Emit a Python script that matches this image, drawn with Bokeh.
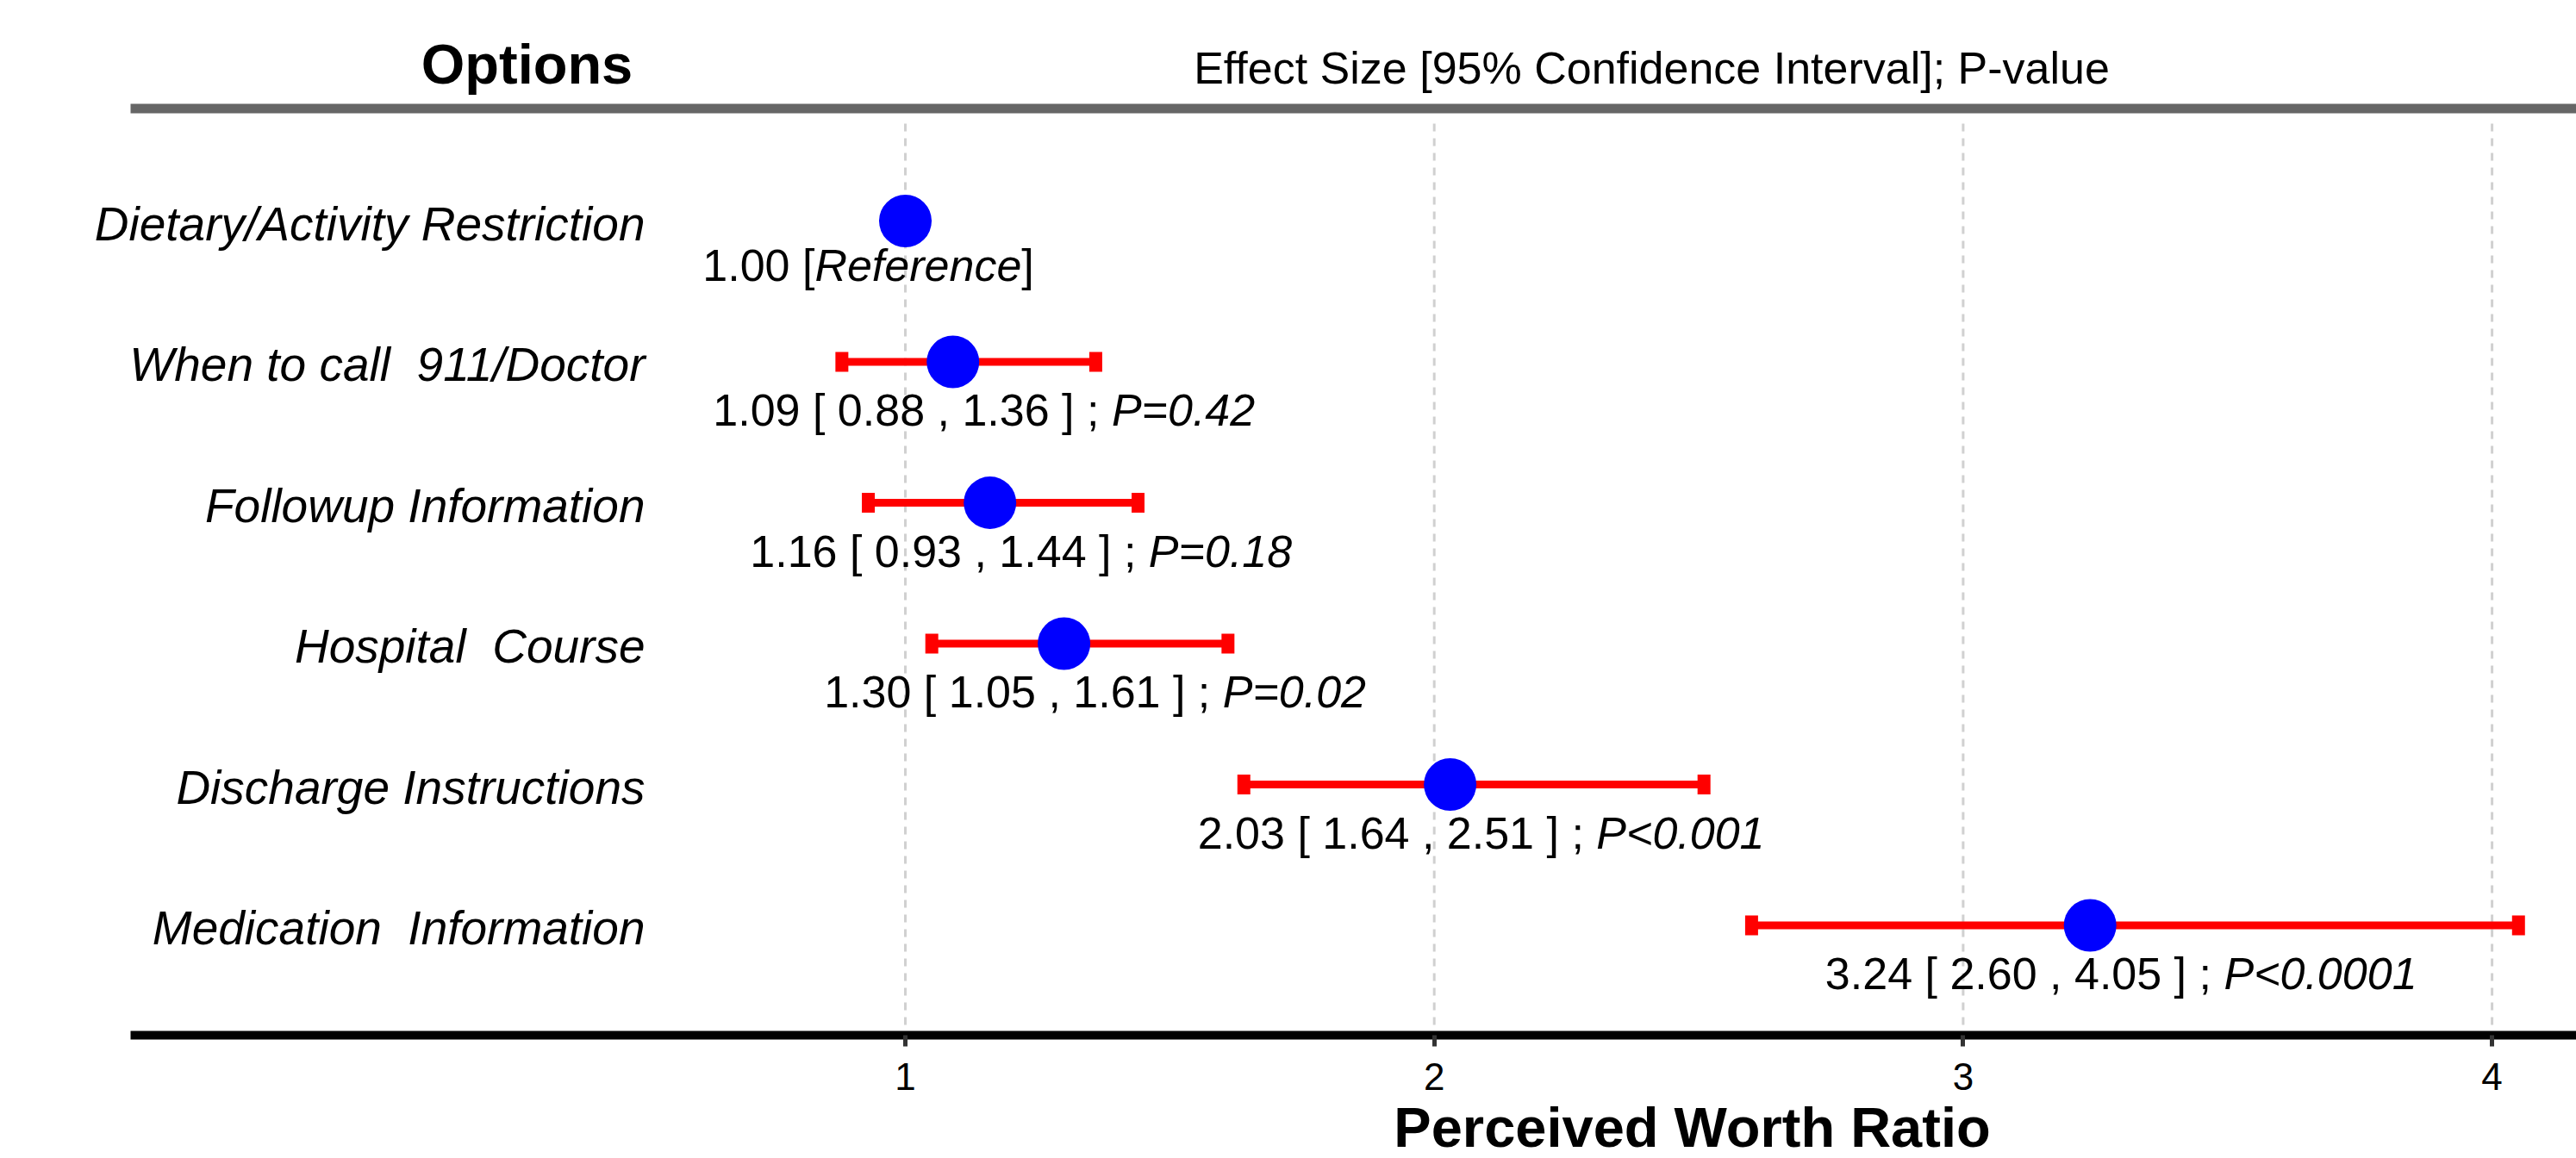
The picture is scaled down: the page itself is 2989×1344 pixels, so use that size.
from bokeh.plotting import figure
from bokeh.models import ColumnDataSource, FixedTicker, Range1d
from bokeh.embed import file_html
from bokeh.resources import INLINE
from bokeh.core.properties import value

# ---------------- data ----------------
options = [
    "Dietary/Activity Restriction",
    "When to call  911/Doctor",
    "Followup Information",
    "Hospital  Course",
    "Discharge Instructions",
    "Medication  Information",
]
effect = [1.00, 1.09, 1.16, 1.30, 2.03, 3.24]
ci_low = [None, 0.88, 0.93, 1.05, 1.64, 2.60]
ci_high = [None, 1.36, 1.44, 1.61, 2.51, 4.05]
p_label = [None, "P=0.42", "P=0.18", "P=0.02", "P<0.001", "P<0.0001"]
x_ticks = [1, 2, 3, 4]

header_left = "Options"
header_right = "Effect Size [95% Confidence Interval]; P-value"
x_title = "Perceived Worth Ratio"
reference_word = "Reference"

# ---------------- layout helpers (canvas pixels) ----------------
FONT = "Liberation Sans"
W, H = 2989, 1344
X1_PX, X_UNIT = 1050.0, 613.7      # px of x=1, px per unit
ROW0_PX, ROW_STEP = 256.0, 163.5   # px of first row, px per row
n = len(options)


def x_of(px):
    return 1 + (px - X1_PX) / X_UNIT


def y_of(py):
    return n - (py - ROW0_PX) / ROW_STEP


AXIS_LEFT, AXIS_Y = 151, 1201
x_range = Range1d(x_of(0), x_of(W))
y_range = Range1d(y_of(H), y_of(0))

p = figure(width=W, height=H, x_range=x_range, y_range=y_range,
           output_backend="svg", toolbar_location=None,
           min_border_left=0, min_border_right=0,
           min_border_top=0, min_border_bottom=0,
           y_axis_location=None, outline_line_color=None,
           background_fill_color="white", border_fill_color="white")
p.grid.visible = False

ys = [n - i for i in range(n)]

# grid lines
p.segment(x0=x_ticks, x1=x_ticks,
          y0=[y_of(143)] * len(x_ticks), y1=[y_of(AXIS_Y)] * len(x_ticks),
          line_color="#d0d0d0", line_width=3, line_dash="9 8")

# header rule
p.segment(x0=[x_of(AXIS_LEFT)], x1=[x_range.end], y0=[y_of(125.5)], y1=[y_of(125.5)],
          line_color="#666666", line_width=11)

# headers (anchor = visual middle of capitals)
p.text(x=[x_of(611)], y=[y_of(74)], text=[header_left], text_align="center",
       text_baseline="alphabetic", text_font=value(FONT), text_font_style="bold",
       text_font_size="65px", text_color="black")
p.text(x=[x_of(1916)], y=[y_of(78)], text=[header_right], text_align="center",
       text_baseline="alphabetic", text_font=value(FONT),
       text_font_size="52px", text_color="black")

# row labels
shown = [o.replace("  ", " \u00a0") for o in options]
p.text(x=[x_of(748)] * n, y=ys, text=shown, text_align="right",
       text_baseline="alphabetic", y_offset=3, text_font=value(FONT),
       text_font_style="italic", text_font_size="55px", text_color="black")

# error bars
idx = [i for i in range(n) if ci_low[i] is not None]
eb = ColumnDataSource(dict(lo=[ci_low[i] for i in idx], hi=[ci_high[i] for i in idx],
                           y=[ys[i] for i in idx]))
p.segment(x0="lo", x1="hi", y0="y", y1="y", source=eb, line_color="#FF0000", line_width=9)
caps = ColumnDataSource(dict(x=[ci_low[i] for i in idx] + [ci_high[i] for i in idx],
                             y=[ys[i] for i in idx] * 2))
p.rect(x="x", y="y", width=15, height=23, width_units="screen", height_units="screen",
       source=caps, fill_color="#FF0000", line_color=None)

# points
p.scatter(x=effect, y=ys, size=61, fill_color="#0000FF", line_color=None)

# value annotations (normal + italic pieces)
AW = {' ': 278, ',': 278, '.': 278, ';': 278, '[': 278, ']': 278, 'P': 667,
      '=': 584, '<': 584, 'R': 722, 'e': 556, 'f': 278, 'r': 333, 'n': 556, 'c': 500}
FS = 52


def tw(s):
    return sum(AW.get(ch, 556) for ch in s) / 1000.0 * FS


seg = dict(x=[], y=[], text=[], xo=[], yo=[])
seg_i = dict(x=[], y=[], text=[], xo=[], yo=[])
for i in range(n):
    if ci_low[i] is None:
        pieces = [(f"{effect[i]:.2f} [", False), (reference_word, True), ("]", False)]
        shift, dy = -43, 51
    else:
        pieces = [(f"{effect[i]:.2f} [ {ci_low[i]:.2f} , {ci_high[i]:.2f} ] ; ", False),
                  (p_label[i], True)]
        shift, dy = 36, 56
    total = sum(tw(t) for t, _ in pieces)
    cur = shift - total / 2
    for t, it in pieces:
        d = seg_i if it else seg
        d["x"].append(effect[i]); d["y"].append(ys[i]); d["text"].append(t)
        d["xo"].append(cur); d["yo"].append(dy)
        cur += tw(t)

for d, style in ((seg, "normal"), (seg_i, "italic")):
    p.text(x="x", y="y", text="text", x_offset="xo", y_offset="yo",
           source=ColumnDataSource(d), text_align="left", text_baseline="alphabetic",
           text_font=value(FONT), text_font_style=style, text_font_size=f"{FS}px",
           text_color="black")

# x axis, pinned at the bottom rule
ax = p.xaxis[0]
ax.fixed_location = y_of(AXIS_Y)
ax.ticker = FixedTicker(ticks=x_ticks)
ax.bounds = (x_of(AXIS_LEFT), x_range.end)
ax.axis_line_width = 10
ax.axis_line_color = "black"
ax.major_tick_line_width = 5
ax.major_tick_line_color = "#333333"
ax.major_tick_out = 13
ax.major_tick_in = 0
ax.minor_tick_line_color = None
ax.major_label_text_font = FONT
ax.major_label_text_font_size = "44px"
ax.major_label_text_color = "black"
ax.major_label_standoff = 19

# axis title
p.text(x=[x_of(1963)], y=[y_of(1308)], text=[x_title], text_align="center",
       text_baseline="alphabetic", text_font=value(FONT), text_font_style="bold",
       text_font_size="65px", text_color="black")

open("out.html", "w").write(file_html(p, INLINE))
